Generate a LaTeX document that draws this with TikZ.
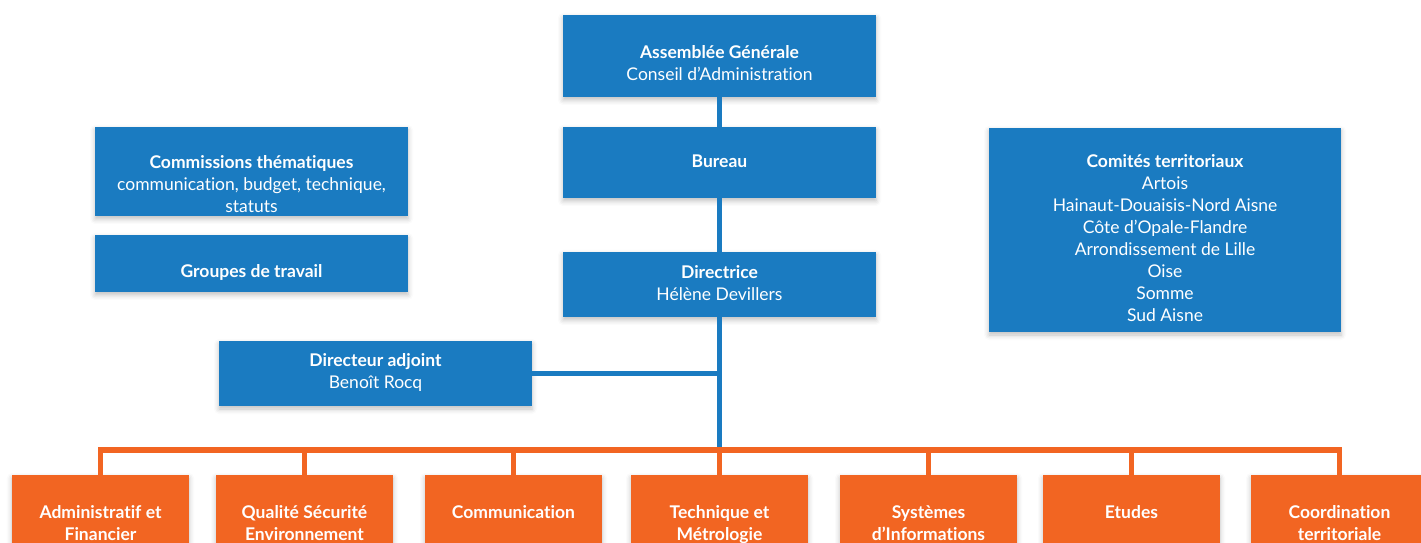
\documentclass[tikz,border=0pt]{standalone}
\usepackage{fontspec}
\setmainfont{Lato}[Ligatures=NoCommon]
\usepackage{xcolor}
\usetikzlibrary{shadows.blur}

\definecolor{boxblue}{RGB}{26,123,193}
\definecolor{boxorange}{RGB}{242,101,34}

\begin{document}
\begin{tikzpicture}[x=1pt, y=1pt,
	every node/.style={font=\fontsize{17.5}{22}\selectfont, text=white, align=center, inner sep=0pt},
	ombre/.style={blur shadow={shadow xshift=0pt, shadow yshift=-3pt, shadow blur radius=5pt, shadow opacity=25}},
	cale/.style={text height=#1, text depth=0pt},
	bleu/.style={rectangle, fill=boxblue, minimum width=313pt, ombre},
	pole/.style={rectangle, fill=boxorange, minimum width=177pt, minimum height=94pt,
				font=\fontsize{17.5}{22}\selectfont\bfseries, ombre},
	lien/.style={draw=boxblue, line width=5.4pt},
	bus/.style={draw=boxorange, line width=5.4pt},
]
\clip (0,0) rectangle (1421,542);
\useasboundingbox (0,0) rectangle (1421,542);
%
\node [bleu, minimum height=82pt, cale=50pt] (AG) at (719.5,486) {\textbf{Assemblée Générale}\\Conseil d’Administration};
\node [bleu, minimum height=71pt, cale=10pt] (B)  at (719.5,379.5) {\textbf{Bureau}};
\node [bleu, minimum height=65pt, cale=32pt] (D)  at (719.5,257.5) {\textbf{Directrice}\\Hélène Devillers};
\node [bleu, minimum height=65pt, cale=29.6pt] (DA) at (375.5,168.5) {\textbf{Directeur adjoint}\\Benoît Rocq};
\node [bleu, minimum height=89pt, cale=81pt] (CT) at (251.5,370.5) {\textbf{Commissions thématiques}\\communication, budget, technique,\\statuts};
\node [bleu, minimum height=57pt, cale=28.4pt] (GT) at (251.5,278.5) {\textbf{Groupes de travail}};
\node [bleu, minimum width=352pt, minimum height=204pt, cale=182.6pt] (CO) at (1165,312)
	{\textbf{Comités territoriaux}\\Artois\\Hainaut-Douaisis-Nord Aisne\\Côte d’Opale-Flandre\\Arrondissement de Lille\\Oise\\Somme\\Sud Aisne};
%
\foreach \nom/\x/\hh/\txt in {O1/100.5/44pt/{Administratif et\\Financier},
		O2/304.5/44pt/{Qualité Sécurité\\Environnement},
		O3/513.5/0pt/{Communication},
		O4/719.5/44pt/{Technique et\\Métrologie},
		O5/928.5/44pt/{Systèmes\\d’Informations},
		O6/1131.5/0pt/{Etudes},
		O7/1339.5/44pt/{Coordination\\territoriale}}
	\node [pole, text height=\hh, text depth=8pt] (\nom) at (\x,20) {\txt};
%
\coordinate (BUS) at (719.5,92);
\draw [lien] (AG) -- (B);
\draw [lien] (B) -- (D);
\draw [lien] (D) -- (BUS);
\draw [lien] (DA) -- (DA -| D);
\draw [bus] (O1) |- (BUS) -| (O7);
\foreach \nom in {O2,O3,O4,O5,O6}
	\draw [bus] (\nom) -- (\nom |- BUS);
\end{tikzpicture}
\end{document}
